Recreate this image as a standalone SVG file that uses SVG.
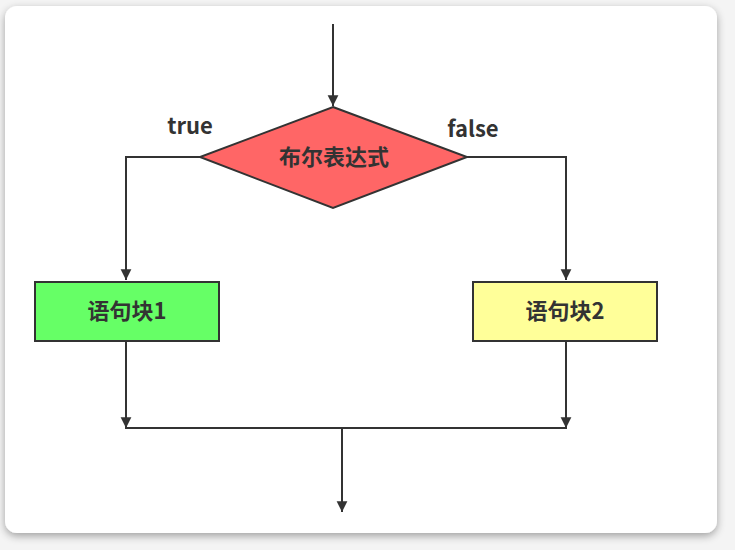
<svg xmlns="http://www.w3.org/2000/svg" width="735" height="550" viewBox="0 0 735 550">
  <style>
    .edge { fill: none; stroke: #333333; stroke-width: 2; }
    .shape { stroke: #333333; stroke-width: 2; }
    .label { font-family: "Noto Sans CJK SC", "Noto Sans", sans-serif; font-weight: bold; font-size: 22px; fill: #333333; }
  </style>
  <defs>
    <marker id="arrow" viewBox="0 0 10 14" refX="10" refY="7" markerWidth="11" markerHeight="15" markerUnits="userSpaceOnUse" orient="auto">
      <path d="M0,2 L10,7 L0,12 z" fill="#333333"/>
    </marker>
    <filter id="shadow" x="-5%" y="-5%" width="110%" height="115%">
      <feGaussianBlur in="SourceAlpha" stdDeviation="4"/>
      <feOffset dx="0" dy="3" result="b"/>
      <feComponentTransfer><feFuncA type="linear" slope="0.35"/></feComponentTransfer>
      <feMerge><feMergeNode/><feMergeNode in="SourceGraphic"/></feMerge>
    </filter>
  </defs>
  <rect x="0" y="0" width="735" height="550" fill="#f4f4f4"/>
  <rect x="5" y="6" width="712" height="527" rx="12" ry="12" fill="#ffffff" filter="url(#shadow)"/>

  <g id="connectors">
    <line class="edge" x1="333" y1="24" x2="333" y2="106" marker-end="url(#arrow)"/>
    <polyline class="edge" points="200,157 126,157 126,280" marker-end="url(#arrow)"/>
    <polyline class="edge" points="467,157 566,157 566,280" marker-end="url(#arrow)"/>
    <line class="edge" x1="126" y1="341" x2="126" y2="428" marker-end="url(#arrow)"/>
    <line class="edge" x1="566" y1="341" x2="566" y2="428" marker-end="url(#arrow)"/>
    <line class="edge" x1="125" y1="428" x2="567" y2="428"/>
    <line class="edge" x1="342" y1="428" x2="342" y2="512" marker-end="url(#arrow)"/>
    <text class="label" x="190" y="134" text-anchor="middle">true</text>
    <text class="label" x="473" y="137" text-anchor="middle">false</text>
  </g>

  <g id="decision">
    <polygon class="shape" points="333,107 467,157 333,208 200,157" fill="#ff6666"/>
    <text class="label" x="334" y="165" text-anchor="middle">布尔表达式</text>
  </g>

  <g id="block1">
    <rect class="shape" x="35" y="282" width="184" height="59" fill="#66ff66"/>
    <text class="label" x="127" y="319" text-anchor="middle">语句块1</text>
  </g>

  <g id="block2">
    <rect class="shape" x="473" y="282" width="184" height="59" fill="#ffff99"/>
    <text class="label" x="565" y="319" text-anchor="middle">语句块2</text>
  </g>
</svg>
